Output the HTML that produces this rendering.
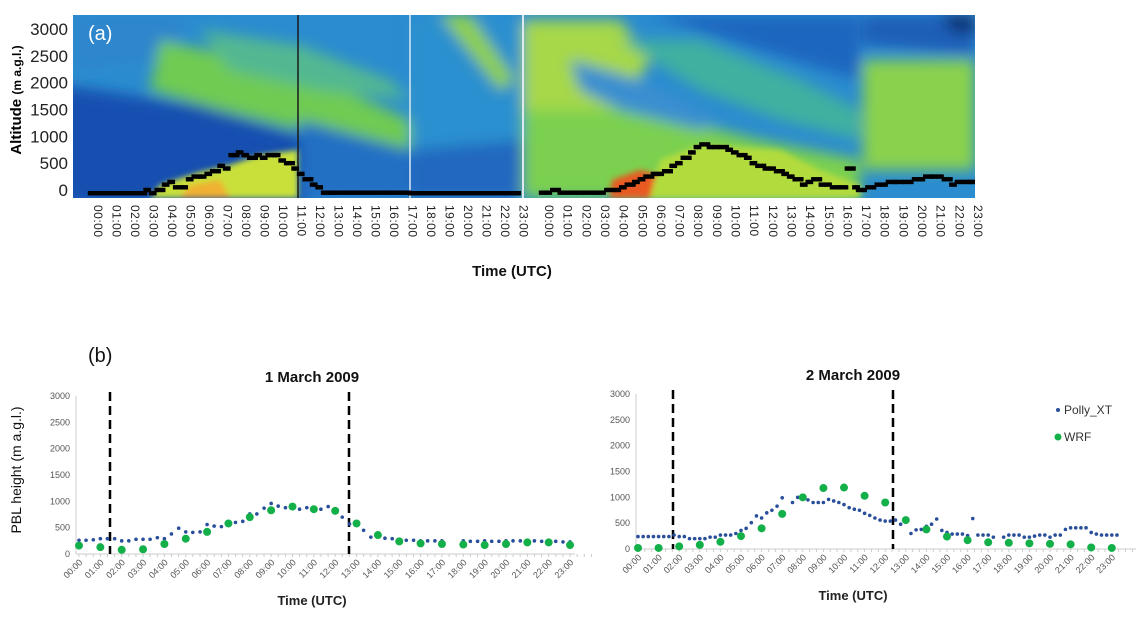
<!DOCTYPE html>
<html><head><meta charset="utf-8">
<style>
body{margin:0;background:#fff;}
svg{display:block;font-family:"Liberation Sans",sans-serif;}
</style></head>
<body>
<svg id="fig" width="1140" height="621" viewBox="0 0 1140 621">
<defs>
<filter id="blur" x="-20%" y="-20%" width="140%" height="140%"><feGaussianBlur stdDeviation="7"/></filter>
<filter id="blur2" x="-20%" y="-20%" width="140%" height="140%"><feGaussianBlur stdDeviation="3"/></filter>
<clipPath id="imgclip"><rect x="73" y="15" width="902" height="183"/></clipPath>
</defs>
<g id="panelA">
<g clip-path="url(#imgclip)">
<rect x="73" y="15" width="902" height="183" fill="#2b8ccf"/>
<g filter="url(#blur)">
<polygon points="73,15 190,15 170,60 73,70" fill="#2f86cc"/>
<polygon points="60,85 200,105 300,135 310,205 60,205" fill="#1550b0"/>
<polygon points="160,40 300,70 410,120 420,175 380,170 300,130 220,110 150,90" fill="#6fcb52"/>
<polygon points="200,30 300,45 390,80 410,100 320,90 230,70" fill="#52b892"/>
<polygon points="300,120 410,150 410,198 300,198" fill="#2070c4"/>
<polygon points="410,15 523,15 523,198 410,198" fill="#2a90cf"/>
<polygon points="410,150 523,140 523,198 410,198" fill="#2268c0"/>
<polygon points="440,15 470,15 515,80 500,90" fill="#8fd048"/>
<polygon points="523,20 620,20 650,60 620,110 560,120 523,110" fill="#a6d848"/>
<polygon points="523,110 640,110 760,140 860,160 860,198 523,198" fill="#7cd050"/>
<polygon points="620,40 700,40 800,80 860,110 860,140 780,120 700,90" fill="#3fb0a0"/>
<polygon points="650,15 860,15 860,80 760,50" fill="#1e66c0"/>
<polygon points="570,60 640,80 720,120 700,130 620,110 580,90" fill="#3b8fd0"/>
<polygon points="863,60 975,60 975,170 863,170" fill="#8ad24e"/>
<polygon points="863,15 975,15 975,55 863,45" fill="#1f5fb8"/>
<polygon points="940,15 975,15 975,35 950,30" fill="#0c2f70"/>
</g>
<g filter="url(#blur2)">
<polygon points="150,198 160,185 200,172 230,165 260,155 298,150 298,198" fill="#c9e03a"/>
<polygon points="180,198 190,185 220,180 230,198" fill="#f0b030"/>
<polygon points="610,198 612,180 640,170 660,175 660,198" fill="#e85a20"/>
<polygon points="650,198 660,160 700,145 780,150 820,170 860,185 860,198" fill="#b2dc3c"/>
</g>
<line x1="298" y1="15" x2="298" y2="198" stroke="#1a1a1a" stroke-width="1.5"/>
<line x1="410" y1="15" x2="410" y2="198" stroke="#dde8f0" stroke-width="1.5"/>
<line x1="523" y1="15" x2="523" y2="198" stroke="#dde8f0" stroke-width="2"/>
<g id="pblA"></g>
</g>
<text x="88" y="40" font-size="20" fill="#fff">(a)</text>
<g id="ytickA"></g>
<text transform="translate(21,100) rotate(-90)" text-anchor="middle" font-size="15" font-weight="bold" fill="#000">Altitude <tspan font-size="12">(m a.g.l.)</tspan></text>
<g id="xtickA"></g>
<text x="512" y="276" text-anchor="middle" font-size="15" font-weight="bold" fill="#111">Time (UTC)</text>
</g>
<text x="88" y="362" font-size="20" fill="#111">(b)</text>
<text transform="translate(21,470) rotate(-90)" text-anchor="middle" font-size="14" fill="#111">PBL height (m a.g.l.)</text>
<g id="chart1"></g>
<g id="chart2"></g>
</svg>
<script>
// Panel (a) PBL retrieval (hour, metres)
const pblDay1Hours=[0,0.5,1,1.5,2,2.5,2.8,3,3.3,3.6,4,4.3,4.6,5,5.3,5.6,6,6.3,6.6,7,7.3,7.6,8,8.3,8.6,9,9.3,9.6,10,10.3,10.6,11,11.3,11.6,12,12.3,12.6,13,13.5,14,14.5,15,15.5,16,17.3,17.6,18,18.5,19,19.5,20,20.5,21,21.5,22,22.5,23];
const pblDay1Vals=[-60,-60,-60,-60,-60,-60,-60,0,-60,0,100,150,50,50,200,250,250,300,350,450,400,650,700,650,600,650,600,650,650,550,500,400,300,200,100,50,-50,-50,-50,-50,-50,-50,-50,-50,-60,-60,-60,-60,-60,-60,-60,-60,-60,-60,-60,-60,-60];
const pblDay2Hours=[0,0.3,0.6,1,1.5,2,2.5,3,3.5,4,4.3,4.6,5,5.3,5.6,6,6.3,6.6,7,7.3,7.6,8,8.3,8.6,9,9.3,9.6,10,10.3,10.6,11,11.3,11.6,12,12.3,12.6,13,13.3,13.6,14,14.3,14.6,15,15.3,15.6,16,16.4,16.8,17,17.5,18,18.3,18.6,19,19.5,20,20.3,20.6,21,21.3,21.6,22,22.3,22.6,23,23.3];
const pblDay2Vals=[-50,-50,0,-50,-50,-50,-50,-50,0,0,50,100,150,200,250,300,300,350,450,500,600,700,800,850,800,800,800,750,700,650,600,500,450,400,400,350,300,250,200,100,150,200,100,100,50,50,400,50,0,50,100,100,150,150,150,200,200,250,250,250,200,100,150,150,150,150];
const ytickVals=[0,500,1000,1500,2000,2500,3000];
const hourLabels=["00:00","01:00","02:00","03:00","04:00","05:00","06:00","07:00","08:00","09:00","10:00","11:00","12:00","13:00","14:00","15:00","16:00","17:00","18:00","19:00","20:00","21:00","22:00","23:00"];
// Panel (b) charts
const polly1Hours=[0,0.33,0.67,1,1.33,1.67,2,2.33,2.67,3,3.33,3.67,4,4.33,4.67,5,5.33,5.67,6,6.33,6.67,7,7.33,7.67,8,8.33,8.67,9,9.33,9.67,10,10.33,10.67,11,11.33,11.67,12,12.33,12.67,13,13.33,13.67,14,14.33,14.67,15,15.33,15.67,16,16.33,16.67,17,18,18.33,18.67,19,19.33,19.67,20,20.33,20.67,21,21.33,21.67,22,22.33,22.67,23];
const polly1Vals=[260,260,270,290,290,290,250,250,280,280,280,310,290,380,490,420,410,420,560,530,520,570,600,620,760,760,870,960,910,880,870,850,880,830,850,900,810,700,570,570,450,320,350,300,290,260,260,260,250,250,250,250,250,240,240,250,240,240,250,250,250,250,250,240,240,240,230,230];
const wrf1Vals=[160,130,80,90,190,290,420,580,700,830,900,850,820,580,360,240,200,190,180,170,190,220,220,170];
const polly2Hours=[0,0.25,0.5,0.75,1,1.25,1.5,1.75,2,2.25,2.5,2.75,3,3.25,3.5,3.75,4,4.25,4.5,4.75,5,5.25,5.5,5.75,6,6.25,6.5,6.75,7,7.5,7.75,8,8.25,8.5,8.75,9,9.25,9.5,9.75,10,10.25,10.5,10.75,11,11.25,11.5,11.75,12,12.25,12.5,12.75,13,13.25,13.5,13.75,14,14.25,14.5,14.75,15,15.25,15.5,15.75,16,16.25,16.5,16.75,17,17.25,17.75,18,18.25,18.5,18.75,19,19.25,19.5,19.75,20,20.25,20.5,20.75,21,21.25,21.5,21.75,22,22.25,22.5,22.75,23,23.25];
const polly2Vals=[240,240,240,240,240,240,240,270,240,240,200,200,200,200,230,230,270,270,270,300,360,400,510,640,600,700,750,830,990,900,1000,980,950,900,900,900,960,930,900,860,800,770,750,690,650,600,560,540,540,560,480,520,300,370,380,440,480,580,360,320,290,290,290,260,590,270,270,270,230,230,270,270,270,230,230,250,270,270,230,270,270,380,410,410,410,410,320,290,270,270,270,270];
const wrf2Vals=[20,20,50,80,140,250,400,680,1000,1180,1190,1030,900,560,380,240,170,130,120,110,100,90,30,20];

const NS='http://www.w3.org/2000/svg';
function mk(tag,attrs,parent,text){const e=document.createElementNS(NS,tag);for(const k in attrs)e.setAttribute(k,attrs[k]);if(text!==undefined)e.textContent=text;parent.appendChild(e);return e;}

// Panel (a)
const yA=v=>190-v*161/3000;
const xA1=h=>90+h*18.5, xA2=h=>541+h*18.65;
const pblA=document.getElementById('pblA');
function drawPbl(hours,vals,xf){
  for(let i=0;i<hours.length;i++){
    const next=i<hours.length-1?hours[i+1]:hours[i]+0.3;
    for(let h=hours[i];h<next-0.01;h+=0.18){
      const r=mk('rect',{x:xf(h)-2.2,y:yA(vals[i])-2.2,width:4.4,height:4.4,fill:'#000'},pblA);
      
      
    }
  }
}
drawPbl(pblDay1Hours,pblDay1Vals,xA1);
drawPbl(pblDay2Hours,pblDay2Vals,xA2);
const ytA=document.getElementById('ytickA');
ytickVals.forEach(v=>{const t=mk('text',{x:68,y:yA(v)+6,'text-anchor':'end','font-size':17,fill:'#222'},ytA,String(v));

});
const xtA=document.getElementById('xtickA');
[xA1,xA2].forEach(xf=>hourLabels.forEach((l,i)=>{const t=mk('text',{transform:`translate(${xf(i)+4},205) rotate(90)`,'font-size':12,fill:'#222','letter-spacing':'0.5'},xtA,l);

}));

// Panel (b)
function chart(g,cfg){
  const y=v=>cfg.y0-v*(cfg.y0-cfg.y3000)/3000;
  const x=h=>cfg.x00+h*cfg.dx;
  const ax=mk('line',{x1:cfg.ax,y1:cfg.y3000,x2:cfg.ax,y2:cfg.y0,stroke:'#ccc'},g);
  
  
  const bx=mk('line',{x1:cfg.ax,y1:cfg.y0,x2:cfg.xend,y2:cfg.y0,stroke:'#ccc'},g);
  
  
  for(let h=0;h<=24;h+=1/3){mk('line',{x1:x(h),y1:cfg.y0,x2:x(h),y2:cfg.y0+3,stroke:'#ccc'},g);}
  ytickVals.forEach(v=>{const t=mk('text',{x:cfg.ax-6,y:y(v)+3,'text-anchor':'end','font-size':9,fill:'#555'},g,String(v));
  
  });
  hourLabels.forEach((l,i)=>{const t=mk('text',{transform:`translate(${x(i)+4},${cfg.y0+9}) rotate(-45)`,'text-anchor':'end','font-size':9,fill:'#555'},g,l);
  
  });
  cfg.dash.forEach(dx=>{const d=mk('line',{x1:dx,y1:cfg.y3000-4,x2:dx,y2:cfg.y0,stroke:'#000','stroke-width':2.5,'stroke-dasharray':'9,5'},g);
  
  });
  cfg.ph.forEach((h,i)=>{const c=mk('circle',{cx:x(h),cy:y(cfg.pv[i]),r:1.8,fill:'#2a4f9a'},g);
  
  });
  cfg.wv.forEach((v,i)=>{const c=mk('circle',{cx:x(i),cy:y(v),r:4,fill:'#13b04a'},g);
  
  });
  const tt=mk('text',{x:cfg.tx,y:cfg.ty,'text-anchor':'middle','font-size':15,'font-weight':'bold',fill:'#111'},g,cfg.title);
  
  
  const xt=mk('text',{x:cfg.tx,y:cfg.y0+51,'text-anchor':'middle','font-size':13,'font-weight':'bold',fill:'#222'},g,'Time (UTC)');
  
  
}
chart(document.getElementById('chart1'),{x00:79,dx:21.35,ax:76,xend:575,y0:554,y3000:396,dash:[110,349],ph:polly1Hours,pv:polly1Vals,wv:wrf1Vals,tx:312,ty:382,title:'1 March  2009'});
chart(document.getElementById('chart2'),{x00:638,dx:20.6,ax:636,xend:1136,y0:549,y3000:394,dash:[673,893],ph:polly2Hours,pv:polly2Vals,wv:wrf2Vals,tx:853,ty:380,title:'2 March  2009'});
const svg=document.getElementById('fig');
const lg=mk('g',{},svg);


const l1=mk('circle',{cx:1058,cy:410,r:2,fill:'#2a4f9a'},lg);


const l1t=mk('text',{x:1064,y:414,'font-size':12,fill:'#333'},lg,'Polly_XT');


const l2=mk('circle',{cx:1058,cy:437,r:3.5,fill:'#13b04a'},lg);


const l2t=mk('text',{x:1064,y:441,'font-size':12,fill:'#333'},lg,'WRF');


</script>
</body></html>
